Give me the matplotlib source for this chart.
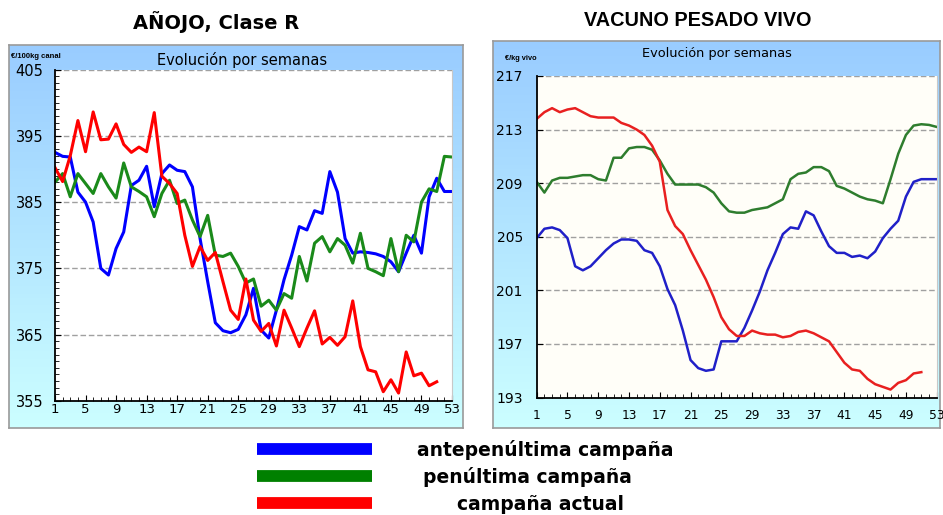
import numpy as np
import matplotlib
matplotlib.use("Agg")
import matplotlib.pyplot as plt
from matplotlib.lines import Line2D

plt.rcParams['font.family'] = ['Liberation Sans', 'DejaVu Sans']

weeks = np.arange(1, 54)

# AÑOJO, Clase R  (€/100kg canal)
anojo_ante = [392.5, 391.9, 391.8, 386.5, 385.0, 382.0, 375.0, 374.0, 378.0, 380.5,
              387.5, 388.3, 390.4, 384.3, 389.3, 390.6, 389.8, 389.6, 387.3, 379.5,
              373.0, 366.8, 365.6, 365.3, 365.8, 368.0, 372.0, 365.7, 364.5, 368.7,
              373.3, 377.0, 381.3, 380.8, 383.7, 383.3, 389.6, 386.5, 379.5, 377.3,
              377.5, 377.4, 377.2, 376.8, 376.0, 374.5, 377.3, 380.0, 377.3, 385.8,
              388.6, 386.6, 386.6]
anojo_pen = [388.0, 389.3, 385.8, 389.3, 387.8, 386.3, 389.3, 387.3, 385.6, 390.9,
             387.3, 386.6, 385.8, 382.8, 386.3, 388.3, 384.8, 385.3, 382.3, 379.8,
             383.0, 377.0, 376.8, 377.3, 375.3, 372.8, 373.4, 369.3, 370.2, 368.7,
             371.2, 370.5, 376.8, 373.1, 378.8, 379.8, 377.5, 379.5, 378.5, 375.8,
             380.3, 375.0, 374.5, 373.9, 379.5, 374.5, 380.0, 379.0, 385.0, 387.0,
             386.6, 391.9, 391.8]
anojo_act = [390.2, 388.1, 392.0, 397.3, 392.6, 398.6, 394.4, 394.5, 396.8, 393.7,
             392.5, 393.3, 392.6, 398.5, 388.9, 387.8, 386.3, 380.0, 375.3, 378.3,
             376.2, 377.4, 373.0, 368.7, 367.3, 373.4, 367.2, 365.5, 366.7, 363.3,
             368.7, 366.0, 363.2, 366.0, 368.6, 363.6, 364.6, 363.4, 364.7, 370.1,
             363.2, 359.7, 359.4, 356.4, 358.2, 356.2, 362.4, 358.8, 359.2, 357.3,
             357.9]

# VACUNO PESADO VIVO  (€/kg vivo)
vacuno_ante = [204.9, 205.6, 205.7, 205.5, 204.9, 202.8, 202.5, 202.8, 203.4, 204.0,
               204.5, 204.8, 204.8, 204.7, 204.0, 203.8, 202.8, 201.1, 199.9, 198.0,
               195.8, 195.2, 195.0, 195.1, 197.2, 197.2, 197.2, 198.2, 199.5, 200.9,
               202.5, 203.8, 205.2, 205.7, 205.6, 206.9, 206.6, 205.4, 204.3, 203.8,
               203.8, 203.5, 203.6, 203.4, 203.9, 204.9, 205.6, 206.2, 208.0, 209.1,
               209.3, 209.3, 209.3]
vacuno_pen = [209.1, 208.3, 209.2, 209.4, 209.4, 209.5, 209.6, 209.6, 209.3, 209.2,
              210.9, 210.9, 211.6, 211.7, 211.7, 211.5, 210.7, 209.7, 208.9, 208.9,
              208.9, 208.9, 208.7, 208.3, 207.5, 206.9, 206.8, 206.8, 207.0, 207.1,
              207.2, 207.5, 207.8, 209.3, 209.7, 209.8, 210.2, 210.2, 209.9, 208.8,
              208.6, 208.3, 208.0, 207.8, 207.7, 207.5, 209.3, 211.2, 212.6, 213.3,
              213.4, 213.35, 213.2]
vacuno_act = [213.8, 214.3, 214.6, 214.3, 214.5, 214.6, 214.3, 214.0, 213.9, 213.9,
              213.9, 213.5, 213.3, 213.0, 212.6, 211.8, 210.6, 207.0, 205.8, 205.2,
              204.0, 202.9, 201.8, 200.5, 199.0, 198.1, 197.6, 197.6, 198.0, 197.8,
              197.7, 197.7, 197.5, 197.6, 197.9, 198.0, 197.8, 197.5, 197.2, 196.4,
              195.6, 195.1, 195.0, 194.4, 194.0, 193.8, 193.6, 194.1, 194.3, 194.8,
              194.9]

x_ticks = list(range(1, 54, 4))
legend_labels = ['antepenúltima campaña', 'penúltima campaña', 'campaña actual']

W, H = 943, 515
fig = plt.figure(figsize=(W / 100, H / 100), dpi=100)
WIDE = ['DejaVu Sans']


def rect(x0, y0, x1, y1):
    # pixel box (top-left origin) -> figure fraction
    return [x0 / W, 1 - y1 / H, (x1 - x0) / W, (y1 - y0) / H]


def panel(box):
    bg = fig.add_axes(rect(*box), zorder=0)
    top = np.array([0.60, 0.80, 1.00])
    bot = np.array([0.80, 1.00, 1.00])
    t = np.linspace(0, 1, 100)[:, None, None]
    grad = top * (1 - t) + bot * t
    bg.imshow(np.repeat(grad, 2, axis=1), aspect='auto', extent=[0, 1, 0, 1])
    bg.set_xticks([])
    bg.set_yticks([])
    for s in bg.spines.values():
        s.set_color('#9a9a9a')
        s.set_linewidth(1.2)
    return bg


def chart(box, ylim, ystep, series, colors, lw, face, ysize, xsize, ypad, xpad):
    ax = fig.add_axes(rect(*box), zorder=2)
    ax.set_facecolor(face)
    for y, c in zip(series, colors):
        ax.plot(weeks[:len(y)], y, color=c, lw=lw, solid_joinstyle='round')
    ax.set_xlim(1, 53)
    ax.set_ylim(*ylim)
    ax.set_xticks(x_ticks)
    ax.set_xticks(weeks, minor=True)
    yt = np.arange(ylim[0], ylim[1] + 0.1, ystep)
    ax.set_yticks(yt)
    for v in yt[1:]:
        ax.axhline(v, color='#a0a0a0', lw=1, ls=(0, (4, 2)), zorder=0)
    ax.tick_params(axis='y', direction='in', length=4, labelsize=ysize, pad=ypad)
    ax.tick_params(axis='x', direction='in', length=4, labelsize=xsize, pad=xpad)
    ax.tick_params(which='minor', direction='in', length=3)
    for lab in ax.get_xticklabels() + ax.get_yticklabels():
        lab.set_family(WIDE)
    ax.spines['top'].set_visible(False)
    ax.spines['right'].set_color('#c8c8c8')
    ax.spines['left'].set_linewidth(1.3)
    ax.spines['bottom'].set_linewidth(1.3)
    return ax


# left panel
panel((9, 45, 463, 428))
axl = chart((55, 69.5, 452, 401), (355, 405), 10,
            [anojo_ante, anojo_pen, anojo_act],
            ['#0000ff', '#1a8a1a', '#ff0000'], 2.2, 'white', 10.5, 9.5, 8.5, 1.5)
axl.set_yticks(np.arange(355, 406, 1), minor=True)
fig.text(11 / W, 1 - 56 / H, '€/100kg canal', fontsize=5.5, fontweight='bold', va='center')
fig.text(242 / W, 1 - 60 / H, 'Evolución por semanas', fontsize=10.5, family=WIDE,
         ha='center', va='center')
fig.text(216 / W, 1 - 22 / H, 'AÑOJO, Clase R', fontsize=14, fontweight='bold',
         family=WIDE, ha='center', va='center')

# right panel
panel((493, 41, 940, 428))
axr = chart((536.7, 76, 936.7, 397.6), (193, 217), 4,
            [vacuno_ante, vacuno_pen, vacuno_act],
            ['#2020c8', '#2e7d2e', '#e82020'], 1.8, '#fffef8', 10, 8.8, 10, 8)
fig.text(505 / W, 1 - 59 / H, '€/kg vivo', fontsize=5.3, fontweight='bold', va='center')
fig.text(717 / W, 1 - 53 / H, 'Evolución por semanas', fontsize=9.3, family=WIDE,
         ha='center', va='center')
fig.text(698 / W, 1 - 21 / H, 'VACUNO PESADO VIVO', fontsize=14.3, fontweight='bold',
         ha='center', va='center')

# legend
leg_colors = ['#0000ff', '#008000', '#ff0000']
line_y = [449, 475.7, 502.7]
text_y = [450, 476.7, 505]
leg_x = [417, 423, 457]
for c, ly, ty, xx, lab in zip(leg_colors, line_y, text_y, leg_x, legend_labels):
    fig.add_artist(Line2D([257 / W, 372 / W], [1 - ly / H, 1 - ly / H], color=c, lw=8.5,
                          solid_capstyle='butt'))
    fig.text(xx / W, 1 - ty / H, lab, fontsize=13.5, fontweight='bold', family=WIDE,
             va='center')

fig.savefig('out.png', dpi=100)
